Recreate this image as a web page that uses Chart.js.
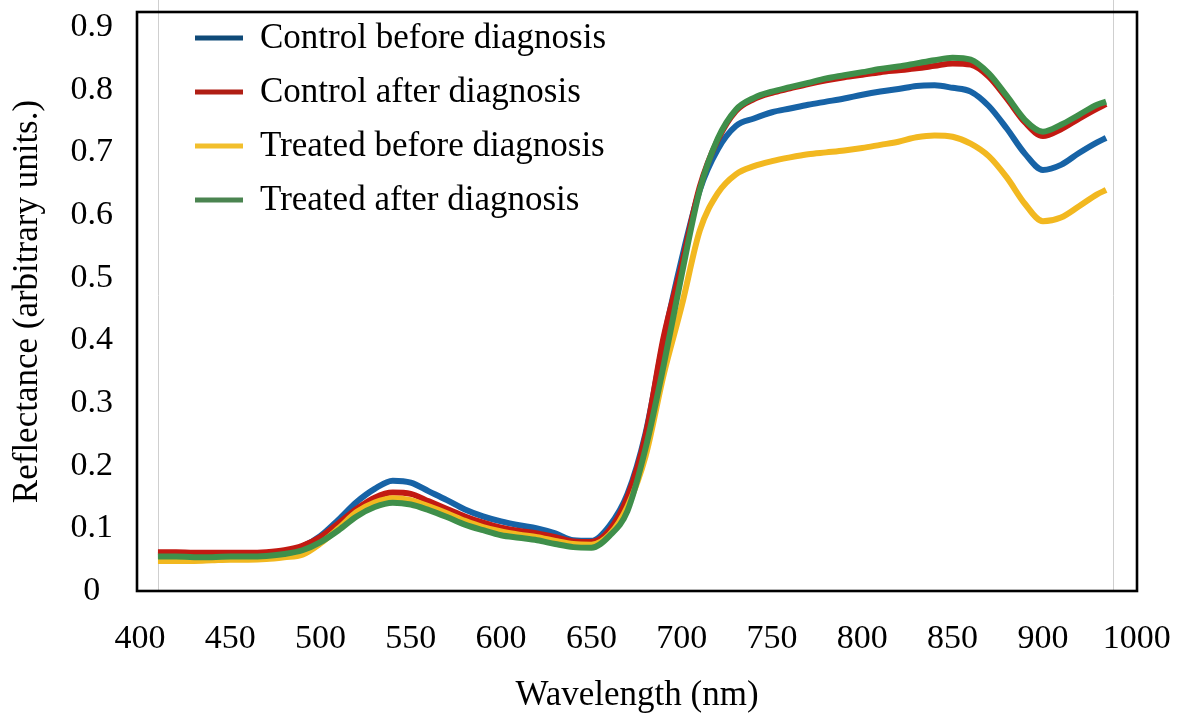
<!DOCTYPE html>
<html>
<head>
<meta charset="utf-8">
<script src="https://cdn.jsdelivr.net/npm/chart.js@4/dist/chart.umd.min.js"></script>
<style>
html,body{margin:0;padding:0;background:#fff;}
#wrap{width:1189px;height:720px;position:relative;}
</style>
</head>
<body>
<div id="wrap"><canvas id="c" width="1189" height="720"></canvas></div>
<script>
const wavelengths = [410,420,430,440,450,460,470,480,490,500,510,520,530,540,550,560,570,580,590,600,610,620,630,640,650,660,670,680,690,700,710,720,730,740,750,760,770,780,790,800,810,820,830,840,850,860,870,880,890,900,910,920,930,935];

const controlBefore = [0.058,0.058,0.057,0.057,0.057,0.058,0.059,0.063,0.071,0.088,0.114,0.142,0.163,0.176,0.173,0.159,0.145,0.130,0.119,0.111,0.105,0.100,0.092,0.081,0.080,0.104,0.155,0.252,0.400,0.530,0.640,0.705,0.742,0.754,0.764,0.770,0.776,0.781,0.786,0.792,0.797,0.801,0.806,0.807,0.803,0.797,0.774,0.738,0.698,0.672,0.680,0.699,0.716,0.723];

const controlAfter = [0.062,0.062,0.061,0.061,0.061,0.061,0.062,0.065,0.072,0.086,0.108,0.131,0.149,0.157,0.155,0.143,0.131,0.119,0.109,0.101,0.096,0.092,0.086,0.079,0.078,0.097,0.150,0.248,0.405,0.520,0.645,0.720,0.766,0.785,0.795,0.802,0.809,0.815,0.820,0.824,0.828,0.831,0.834,0.838,0.842,0.840,0.821,0.786,0.748,0.726,0.737,0.754,0.770,0.777];

const treatedBefore = [0.048,0.048,0.048,0.049,0.050,0.050,0.051,0.054,0.058,0.076,0.100,0.126,0.141,0.148,0.145,0.135,0.124,0.112,0.102,0.095,0.090,0.086,0.080,0.075,0.074,0.090,0.135,0.215,0.345,0.455,0.575,0.635,0.665,0.678,0.686,0.692,0.697,0.700,0.703,0.707,0.712,0.717,0.724,0.727,0.725,0.714,0.694,0.660,0.618,0.590,0.596,0.614,0.633,0.640];

const treatedAfter = [0.055,0.055,0.054,0.054,0.055,0.055,0.056,0.059,0.065,0.078,0.097,0.119,0.134,0.141,0.138,0.129,0.118,0.106,0.097,0.089,0.085,0.081,0.075,0.070,0.069,0.088,0.128,0.228,0.360,0.505,0.640,0.722,0.768,0.787,0.797,0.804,0.811,0.818,0.823,0.828,0.833,0.837,0.842,0.847,0.851,0.848,0.826,0.790,0.752,0.733,0.744,0.760,0.776,0.781];

const seriesLabels = ['Control before diagnosis','Control after diagnosis','Treated before diagnosis','Treated after diagnosis'];
const seriesColors = ['#1763a6','#c21a12','#f2b820','#3f8f4a'];
const legendColors = ['#0f4a78','#b01e14','#f2bf2c','#4a8450'];

const xTickValues = [400,450,500,550,600,650,700,750,800,850,900,952];
const xTickLabels = ['400','450','500','550','600','650','700','750','800','850','900','1000'];
const yTickValues = [0,0.1,0.2,0.3,0.4,0.5,0.6,0.7,0.8,0.9];
const yTickLabels = ['0','0.1','0.2','0.3','0.4','0.5','0.6','0.7','0.8','0.9'];

const FONT = "'Liberation Serif', 'Times New Roman', serif";

function pts(arr){ return arr.map((v,i)=>({x:wavelengths[i], y:v})); }

const allSeries = [controlBefore, controlAfter, treatedBefore, treatedAfter];
const drawOrder = [3,2,1,0];

const datasets = allSeries.map((s,i)=>({
  label: seriesLabels[i],
  data: pts(s),
  borderColor: seriesColors[i],
  backgroundColor: seriesColors[i],
  borderWidth: 6,
  pointRadius: 0,
  fill: false,
  cubicInterpolationMode: 'monotone',
  order: drawOrder[i]
}));

function noPad(scale){
  scale.paddingTop = 0; scale.paddingBottom = 0;
  scale.paddingLeft = 0; scale.paddingRight = 0;
}

const framePlugin = {
  id: 'frame',
  beforeDatasetsDraw(chart){
    const {ctx, chartArea:a, scales:{x}} = chart;
    ctx.save();
    ctx.strokeStyle = '#cfcfcf';
    ctx.lineWidth = 1;
    [410, 939].forEach(v=>{
      const px = Math.round(x.getPixelForValue(v)) + 0.5;
      ctx.beginPath(); ctx.moveTo(px, 0); ctx.lineTo(px, a.bottom); ctx.stroke();
    });
    ctx.restore();
  },
  afterDraw(chart){
    const {ctx, chartArea:a} = chart;
    ctx.save();
    ctx.strokeStyle = '#000';
    ctx.lineWidth = 2.6;
    ctx.strokeRect(a.left, a.top, a.right - a.left, a.bottom - a.top);
    // legend
    ctx.font = '35px ' + FONT;
    ctx.textBaseline = 'middle';
    ctx.textAlign = 'left';
    chart.data.datasets.forEach((d,i)=>{
      const y = a.top + 26 + i*54;
      ctx.strokeStyle = legendColors[i];
      ctx.lineWidth = 5;
      ctx.beginPath(); ctx.moveTo(a.left + 58, y); ctx.lineTo(a.left + 106, y); ctx.stroke();
      ctx.fillStyle = '#000';
      ctx.fillText(d.label, a.left + 123, y + 1);
    });
    ctx.restore();
  }
};

new Chart(document.getElementById('c'), {
  type: 'line',
  data: { datasets },
  plugins: [framePlugin],
  options: {
    responsive: false,
    animation: false,
    layout: { padding: { left: 0, right: 52, top: 12, bottom: 0 } },
    plugins: { legend: { display: false }, tooltip: { enabled: false } },
    scales: {
      x: {
        type: 'linear',
        min: 398.4,
        max: 952.1,
        afterBuildTicks(scale){ scale.ticks = xTickValues.map(v=>({value:v})); },
        afterFit(scale){ scale.height = 129; noPad(scale); },
        grid: { display: false, drawTicks: false },
        border: { display: false },
        ticks: {
          autoSkip: false,
          maxRotation: 0,
          padding: 28,
          color: '#000',
          font: { family: FONT, size: 34 },
          callback(value, index){ return xTickLabels[index]; }
        },
        title: {
          display: true,
          text: 'Wavelength (nm)',
          color: '#000',
          font: { family: FONT, size: 35 },
          padding: { top: 0, bottom: 3 }
        }
      },
      y: {
        type: 'linear',
        min: 0,
        max: 0.924,
        afterBuildTicks(scale){ scale.ticks = yTickValues.map(v=>({value:v})); },
        afterFit(scale){ scale.width = 137; noPad(scale); },
        grid: { display: false, drawTicks: false },
        border: { display: false },
        ticks: {
          autoSkip: false,
          padding: 24,
          crossAlign: 'center',
          color: '#000',
          font: { family: FONT, size: 34 },
          callback(value, index){ return yTickLabels[index]; }
        },
        title: {
          display: true,
          text: 'Reflectance (arbitrary units.)',
          color: '#000',
          font: { family: FONT, size: 35 },
          padding: { top: 7, bottom: 0 }
        }
      }
    }
  }
});
</script>
</body>
</html>
